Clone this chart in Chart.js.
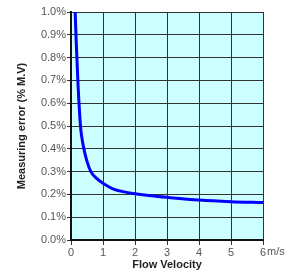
<!DOCTYPE html>
<html>
<head>
<meta charset="utf-8">
<script src="https://cdn.jsdelivr.net/npm/chart.js@4/dist/chart.umd.min.js"></script>
<style>
  html, body { margin: 0; padding: 0; background: #fff; }
  #wrap { width: 301px; height: 276px; }
</style>
</head>
<body>
<div id="wrap"><canvas id="myChart" width="301" height="276"></canvas></div>
<script>
// values
var velocity = [0.13, 0.16, 0.19, 0.22, 0.25, 0.28, 0.31, 0.35, 0.41, 0.5, 0.62, 0.8, 1.0, 1.35, 1.7, 2.0, 2.5, 3, 4, 5, 6];
var errorPct = [1.0, 0.88, 0.78, 0.68, 0.6, 0.53, 0.48, 0.44, 0.395, 0.345, 0.3, 0.27, 0.249, 0.222, 0.21, 0.203, 0.194, 0.187, 0.175, 0.168, 0.164];
var xTicks = [0, 1, 2, 3, 4, 5, 6];
var xUnit = 'm/s';
var xTitle = 'Flow Velocity';
var yTitle = 'Measuring error (% M.V)';

var points = velocity.map(function (v, i) { return { x: v, y: errorPct[i] }; });

// light cyan plot background
var plotBg = {
  id: 'plotBg',
  beforeDraw: function (chart) {
    var a = chart.chartArea, ctx = chart.ctx;
    ctx.save();
    ctx.fillStyle = '#ccffff';
    ctx.fillRect(a.left, a.top, a.right - a.left, a.bottom - a.top);
    ctx.restore();
  }
};

// unit text after the last x tick
var unitLabel = {
  id: 'unitLabel',
  afterDraw: function (chart) {
    var xs = chart.scales.x, ctx = chart.ctx;
    ctx.save();
    ctx.font = '11px "Liberation Sans", Arial, sans-serif';
    ctx.fillStyle = '#555';
    ctx.textAlign = 'left';
    ctx.textBaseline = 'top';
    ctx.fillText(xUnit, xs.getPixelForValue(xTicks[xTicks.length - 1]) + 4, xs.top + 6);
    ctx.restore();
  }
};

var ctx = document.getElementById('myChart').getContext('2d');
var myChart = new Chart(ctx, {
  type: 'line',
  data: {
    datasets: [{
      data: points,
      borderColor: '#0000ff',
      borderWidth: 3,
      pointRadius: 0,
      fill: false,
      cubicInterpolationMode: 'monotone'
    }]
  },
  options: {
    responsive: false,
    animation: false,
    layout: { padding: { left: 0, right: 38, top: 12, bottom: 0 } },
    plugins: { legend: { display: false }, tooltip: { enabled: false } },
    scales: {
      x: {
        type: 'linear',
        min: 0,
        max: 6,
        afterFit: function (s) { s.height = 36; },
        afterBuildTicks: function (s) { s.ticks = xTicks.map(function (v) { return { value: v }; }); },
        ticks: {
          padding: 1,
          color: '#555',
          maxRotation: 0,
          font: { family: '"Liberation Sans", Arial, sans-serif', size: 11 },
          callback: function (v) { return String(v); }
        },
        grid: { color: '#333', lineWidth: 1, tickLength: 5 },
        border: { color: '#111', width: 2 },
        title: {
          display: true,
          text: xTitle,
          color: '#222',
          padding: { top: 0, bottom: 4 },
          font: { family: '"Liberation Sans", Arial, sans-serif', size: 11, weight: 'bold' }
        }
      },
      y: {
        min: 0,
        max: 1.0,
        afterFit: function (s) { s.width = 71; },
        ticks: {
          stepSize: 0.1,
          padding: 1,
          color: '#555',
          font: { family: '"Liberation Sans", Arial, sans-serif', size: 11 },
          callback: function (v) { return v.toFixed(1) + '%'; }
        },
        grid: { color: '#333', lineWidth: 1, tickLength: 4 },
        border: { color: '#111', width: 2 },
        title: {
          display: true,
          text: yTitle,
          color: '#222',
          padding: { top: 15, bottom: 0 },
          font: { family: '"Liberation Sans", Arial, sans-serif', size: 11, weight: 'bold' }
        }
      }
    }
  },
  plugins: [plotBg, unitLabel]
});
</script>
</body>
</html>
